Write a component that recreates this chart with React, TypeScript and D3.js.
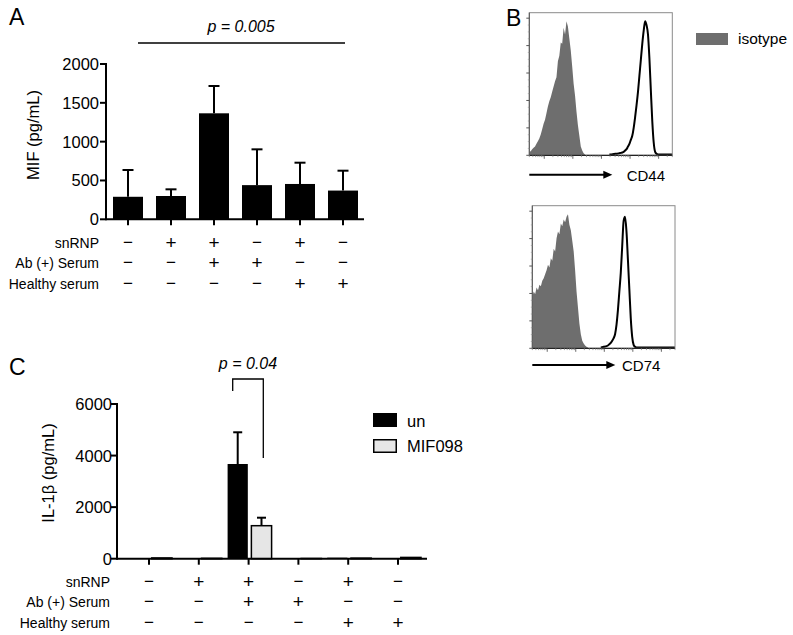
import React from 'react';
import * as d3 from 'd3';

// ---------- data ----------
const conditions = ['c1', 'c2', 'c3', 'c4', 'c5', 'c6'];
const rowLabels = ['snRNP', 'Ab (+) Serum', 'Healthy serum'];
const snRNP = ['−', '+', '+', '−', '+', '−'];
const abSerum = ['−', '−', '+', '+', '−', '−'];
const healthySerum = ['−', '−', '−', '−', '+', '+'];

const mifMean = [290, 300, 1365, 440, 455, 370];
const mifUpper = [635, 386, 1717, 901, 729, 626];
const mifTicks = [0, 500, 1000, 1500, 2000];

const ilSeries = ['un', 'MIF098'];
const ilUn = [8, 8, 3673, 6, 40, 8];
const ilMif = [30, 15, 1280, 8, 22, 50];
const ilUnUpper = [0, 0, 4903, 0, 0, 0];
const ilMifUpper = [0, 0, 1590, 0, 0, 0];
const ilTicks = [0, 2000, 4000, 6000];

// flow histograms (counts per channel, channel axis 0..100)
const cd44IsoStart = 0;
const cd44Iso = [2, 2.5, 4, 5, 6, 8, 10, 12, 15, 19, 23, 26, 31, 36, 40, 43, 47, 51, 55, 58, 70, 74, 84, 83, 95, 90, 100, 96, 87, 78, 66, 53, 44, 32, 22, 14, 6, 3, 1, 0];
const cd44StainStart = 56;
const cd44Stain = [0, 0, 0.2, 0.3, 0.5, 0.5, 0.7, 1, 1.2, 1.5, 2, 3, 4, 6, 8, 11, 14, 20, 28, 37, 47, 59, 71, 83, 93, 100, 97, 90, 72, 48, 25, 9, 2, 0.5, 0, 0, 0, 0, 0, 0, 0, 0, 0, 0, 0];
const cd74IsoStart = 0;
const cd74Iso = [38, 42, 40, 45, 43, 47, 46, 50, 52, 55, 58, 62, 60, 67, 65, 74, 72, 82, 87, 85, 93, 91, 96, 94, 98, 100, 92, 88, 80, 72, 58, 42, 30, 18, 10, 5, 3, 1.5, 0.5, 0];
const cd74StainStart = 48;
const cd74Stain = [0, 0.2, 0.5, 0.7, 1, 1.5, 2.5, 3.5, 5, 7, 10, 17, 28, 42, 56, 76, 95, 98, 87, 66, 44, 22, 8, 2, 0.5, 0, 0, 0, 0, 0, 0, 0, 0, 0, 0, 0, 0, 0, 0, 0, 0, 0, 0, 0, 0, 0, 0, 0, 0, 0, 0, 0, 0];

const FONT = '"Liberation Sans", Arial, Helvetica, sans-serif';
const ISO_GREY = '#6e6e6e';

function SignTable({ x, labelX, rowsY }: { x: d3.ScalePoint<string>; labelX: number; rowsY: number[] }) {
  const rows = [snRNP, abSerum, healthySerum];
  return (
    <g fontFamily={FONT}>
      {rows.map((r, ri) => (
        <g key={ri}>
          <text x={labelX} y={rowsY[ri]} textAnchor="end" fontSize={14}>{rowLabels[ri]}</text>
          {conditions.map((c, i) => (
            <text key={c} x={x(c)} y={rowsY[ri] + (r[i] === '+' ? 1 : 0)} textAnchor="middle" fontSize={r[i] === '+' ? 19 : 17}>{r[i]}</text>
          ))}
        </g>
      ))}
    </g>
  );
}

function PanelA() {
  const y = d3.scaleLinear().domain([0, 2000]).range([219.3, 64]);
  const x = d3.scalePoint<string>().domain(conditions).range([128, 343]);
  const axisX0 = 106, axisX1 = 364;
  const bw = 30;
  return (
    <g>
      <text x={9} y={25} fontFamily={FONT} fontSize={23}>A</text>
      <text x={241} y={32} fontFamily={FONT} fontSize={16} fontStyle="italic" textAnchor="middle">p = 0.005</text>
      <line x1={138} x2={345} y1={43} y2={43} stroke="#000" strokeWidth={1.3} />
      {conditions.map((c, i) => {
        const cx = x(c)!;
        return (
          <g key={c}>
            <line x1={cx} x2={cx} y1={y(mifMean[i])} y2={y(mifUpper[i])} stroke="#000" strokeWidth={2} />
            <line x1={cx - 5.5} x2={cx + 5.5} y1={y(mifUpper[i])} y2={y(mifUpper[i])} stroke="#000" strokeWidth={2} />
            <rect x={cx - bw / 2} width={bw} y={y(mifMean[i])} height={y(0) - y(mifMean[i])} fill="#000" />
          </g>
        );
      })}
      <line x1={axisX0} x2={axisX0} y1={y(2000) - 1} y2={y(0) + 1} stroke="#000" strokeWidth={2} />
      <line x1={axisX0} x2={axisX1} y1={y(0)} y2={y(0)} stroke="#000" strokeWidth={2} />
      {mifTicks.map(t => (
        <g key={t}>
          <line x1={axisX0 - 6} x2={axisX0} y1={y(t)} y2={y(t)} stroke="#000" strokeWidth={2} />
          <text x={axisX0 - 7} y={y(t) + 6} textAnchor="end" fontFamily={FONT} fontSize={16.5}>{t}</text>
        </g>
      ))}
      {conditions.map(c => (
        <line key={c} x1={x(c)} x2={x(c)} y1={y(0)} y2={y(0) + 6} stroke="#000" strokeWidth={2} />
      ))}
      <text transform={`translate(38.5,135) rotate(-90)`} textAnchor="middle" fontFamily={FONT} fontSize={16.5}>MIF (pg/mL)</text>
      <SignTable x={x} labelX={99} rowsY={[248, 268, 289]} />
    </g>
  );
}

function PanelC() {
  const y = d3.scaleLinear().domain([0, 6000]).range([558.7, 404]);
  const x = d3.scalePoint<string>().domain(conditions).range([149, 398]);
  const sub = d3.scaleBand<string>().domain(ilSeries).range([-21, 23]).paddingInner(0.15);
  const axisX0 = 117, axisX1 = 427;
  const series = [
    { key: 'un', vals: ilUn, upper: ilUnUpper, fill: '#000' },
    { key: 'MIF098', vals: ilMif, upper: ilMifUpper, fill: '#e6e6e6' },
  ];
  const base = y(0);
  return (
    <g>
      <text x={9} y={375} fontFamily={FONT} fontSize={23}>C</text>
      <text x={248} y={369} fontFamily={FONT} fontSize={16} fontStyle="italic" textAnchor="middle">p = 0.04</text>
      <path d={`M232.7,391 V379 H263.3 V458`} fill="none" stroke="#000" strokeWidth={1.3} />
      {series.map(s => (
        <g key={s.key}>
          {conditions.map((c, i) => {
            const bx = x(c)! + sub(s.key)!;
            const top = y(s.vals[i]);
            const cx = bx + sub.bandwidth() / 2;
            return (
              <g key={c}>
                {s.upper[i] > 0 && (
                  <g>
                    <line x1={cx} x2={cx} y1={top} y2={y(s.upper[i])} stroke="#000" strokeWidth={2} />
                    <line x1={cx - 4.5} x2={cx + 4.5} y1={y(s.upper[i])} y2={y(s.upper[i])} stroke="#000" strokeWidth={2} />
                  </g>
                )}
                <rect x={bx} width={sub.bandwidth()} y={top} height={Math.max(0, base - top)} fill={s.fill}
                  stroke="#000" strokeWidth={s.key === 'un' ? 0 : 1.5} />
              </g>
            );
          })}
        </g>
      ))}
      <line x1={axisX0} x2={axisX0} y1={y(6000) - 1} y2={base + 1} stroke="#000" strokeWidth={2} />
      <line x1={axisX0} x2={axisX1} y1={base} y2={base} stroke="#000" strokeWidth={2} />
      {ilTicks.map(t => (
        <g key={t}>
          <line x1={axisX0 - 6} x2={axisX0} y1={y(t)} y2={y(t)} stroke="#000" strokeWidth={2} />
          <text x={axisX0 - 5} y={y(t) + 6} textAnchor="end" fontFamily={FONT} fontSize={16.5}>{t}</text>
        </g>
      ))}
      {conditions.map(c => (
        <line key={c} x1={x(c)} x2={x(c)} y1={base} y2={base + 6} stroke="#000" strokeWidth={2} />
      ))}
      <text transform={`translate(54,473) rotate(-90)`} textAnchor="middle" fontFamily={FONT} fontSize={16.5}>IL-1β (pg/mL)</text>
      {/* legend */}
      <rect x={373} y={413} width={24} height={14} fill="#000" />
      <text x={407} y={427} fontFamily={FONT} fontSize={16.5}>un</text>
      <rect x={373.75} y={439.75} width={22.5} height={12.5} fill="#e6e6e6" stroke="#000" strokeWidth={1.5} />
      <text x={407} y={452} fontFamily={FONT} fontSize={16.5}>MIF098</text>
      <SignTable x={x} labelX={110} rowsY={[587, 607, 628]} />
    </g>
  );
}

function Histogram({ x0, x1, y0, y1, iso, isoStart, stain, stainStart, label, arrowY, labelX }:
  { x0: number; x1: number; y0: number; y1: number; iso: number[]; isoStart: number; stain: number[]; stainStart: number; label: string; arrowY: number; labelX: number }) {
  const x = d3.scaleLinear().domain([0, 100]).range([x0, x1]);
  const peakY = y0 + 8.5;
  const y = d3.scaleLinear().domain([0, 100]).range([y1 - 0.8, peakY]);
  const area = d3.area<number>().x((_, i) => x(isoStart + i)).y0(y1).y1(d => y(d)).curve(d3.curveLinear);
  const line = d3.line<number>().x((_, i) => x(stainStart + i)).y(d => y(d)).curve(d3.curveMonotoneX);
  const countScale = d3.scaleLinear().domain([0, 5.2]).range([y1, y0]);
  const major = d3.range(0, 6);
  const minor = d3.range(0, 5.2, 0.25).filter(v => Math.abs(v - Math.round(v)) > 0.01);
  const logX = d3.scaleLog().domain([3, 3e5]).range([x0, x1]);
  const logTicks = logX.ticks();
  return (
    <g>
      <path d={area(iso)!} fill={ISO_GREY} />
      <path d={line(stain)!} fill="none" stroke="#000" strokeWidth={2} />
      <rect x={x0} y={y0} width={x1 - x0} height={y1 - y0} fill="none" stroke="#8a8a8a" strokeWidth={1} />
      <line x1={x0} x2={x1} y1={y1} y2={y1} stroke="#222" strokeWidth={1.2} />
      <line x1={x0} x2={x0} y1={y0} y2={y1} stroke="#555" strokeWidth={1} />
      {major.map(v => (
        <line key={'M' + v} x1={x0 - 3} x2={x0} y1={countScale(v)} y2={countScale(v)} stroke="#555" strokeWidth={1} />
      ))}
      {minor.map(v => (
        <line key={'m' + v} x1={x0 - 1.5} x2={x0} y1={countScale(v)} y2={countScale(v)} stroke="#999" strokeWidth={0.7} />
      ))}
      {logTicks.map((t, i) => {
        const isMajor = Math.abs(Math.log10(t) - Math.round(Math.log10(t))) < 1e-6;
        return <line key={i} x1={logX(t)} x2={logX(t)} y1={y1} y2={y1 + (isMajor ? 3.5 : 1.8)} stroke={isMajor ? '#444' : '#888'} strokeWidth={0.8} />;
      })}
      <line x1={x0} x2={x0 + 76} y1={arrowY} y2={arrowY} stroke="#000" strokeWidth={2} />
      <path d={`M${x0 + 74},${arrowY - 4} L${x0 + 83},${arrowY} L${x0 + 74},${arrowY + 4} Z`} fill="#000" />
      <text x={labelX} y={arrowY + 6} fontFamily={FONT} fontSize={15}>{label}</text>
    </g>
  );
}

function PanelB() {
  return (
    <g>
      <text x={506} y={26} fontFamily={FONT} fontSize={23}>B</text>
      <Histogram x0={529.3} x1={672.3} y0={12.7} y1={155.3} iso={cd44Iso} isoStart={cd44IsoStart} stain={cd44Stain} stainStart={cd44StainStart} label="CD44" arrowY={174.7} labelX={626.7} />
      <Histogram x0={532.3} x1={675} y0={205.7} y1={348.3} iso={cd74Iso} isoStart={cd74IsoStart} stain={cd74Stain} stainStart={cd74StainStart} label="CD74" arrowY={365} labelX={622} />
      <rect x={696} y={33} width={32} height={12} fill={ISO_GREY} />
      <text x={738} y={44} fontFamily={FONT} fontSize={15.5}>isotype</text>
    </g>
  );
}

export default function App() {
  return (
    <svg width={793} height={635} viewBox="0 0 793 635" style={{ position: 'absolute', left: 0, top: 0, background: '#fff' }}>
      <rect width={793} height={635} fill="#fff" />
      <PanelA />
      <PanelB />
      <PanelC />
    </svg>
  );
}
